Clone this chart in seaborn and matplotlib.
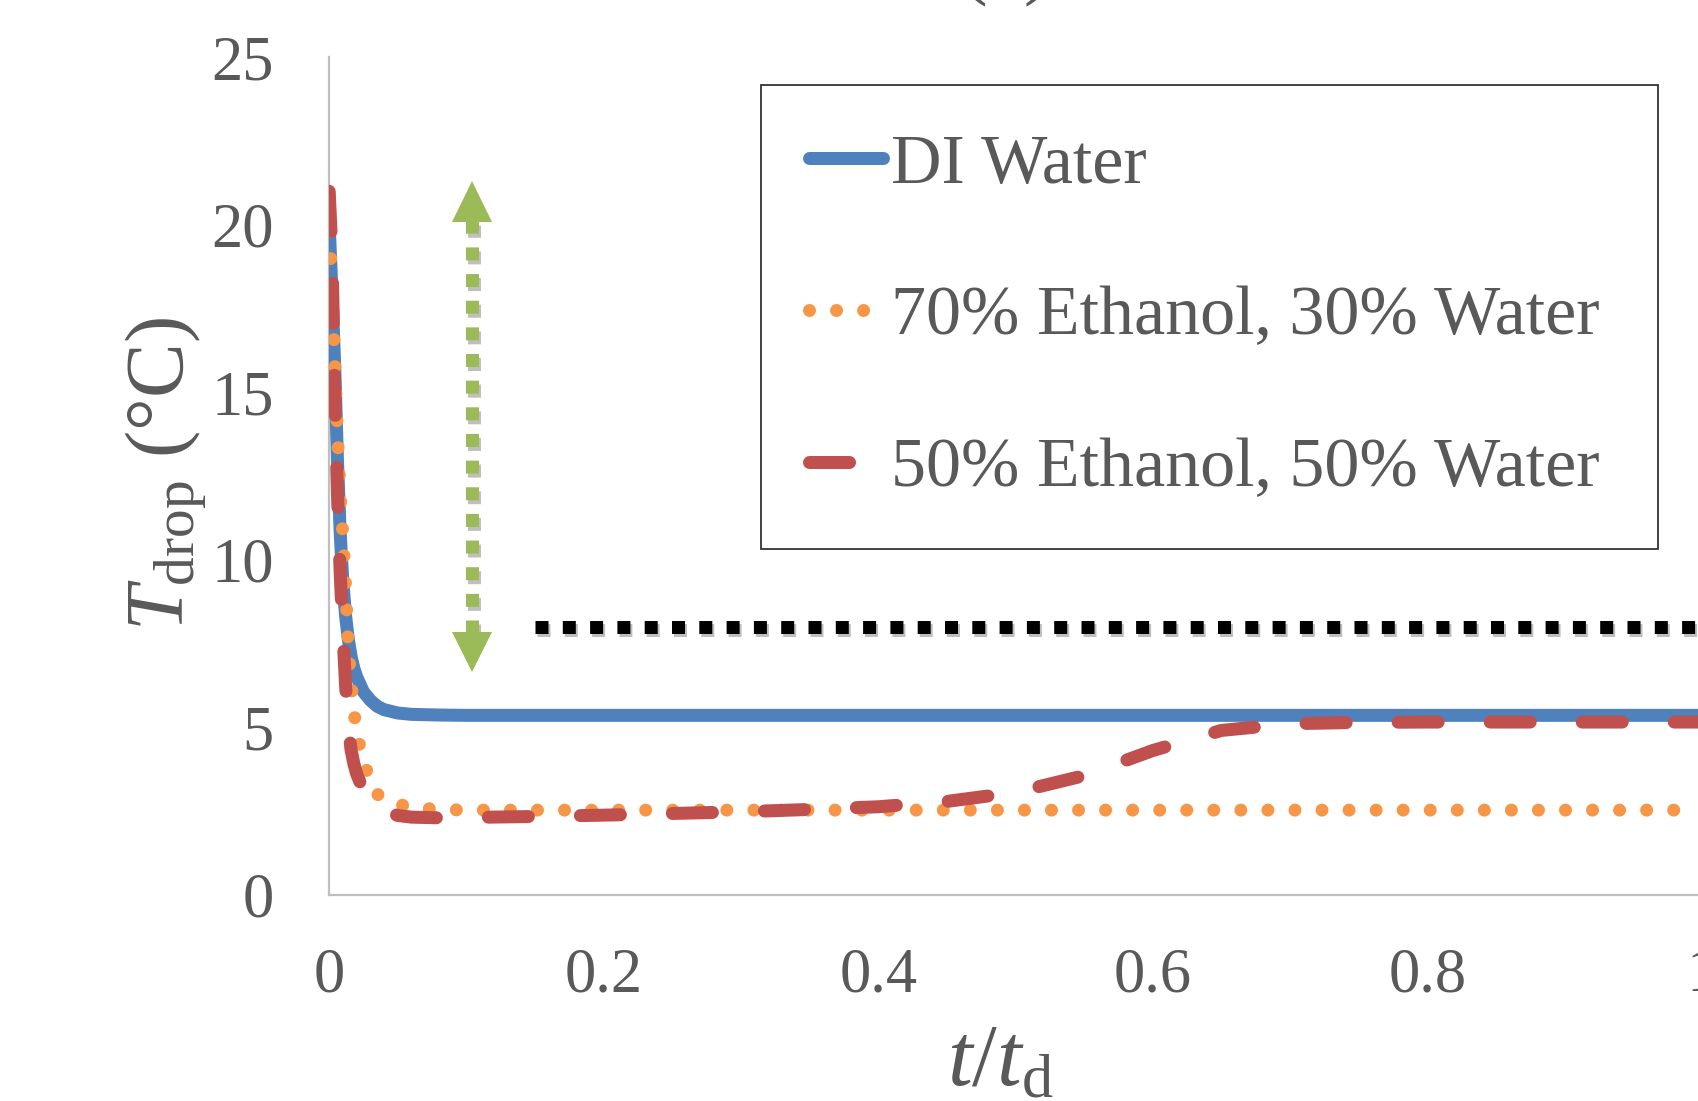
import numpy as np
import pandas as pd
import matplotlib
matplotlib.use("Agg")
import matplotlib.pyplot as plt
import matplotlib.patheffects as pe
import seaborn as sns

# ---------------- data ----------------
t_norm = [0, 0.002, 0.004, 0.006, 0.008, 0.010, 0.012, 0.014, 0.016, 0.018,
          0.020, 0.025, 0.030, 0.035, 0.040, 0.050, 0.060, 0.080, 0.10, 0.15,
          0.20, 0.25, 0.30, 0.35, 0.40, 0.45, 0.50, 0.55, 0.60, 0.65,
          0.70, 0.75, 0.80, 0.85, 0.90, 0.95, 1.00]
di_water = [20.0, 18.0, 15.8, 13.0, 10.8, 9.3, 8.3, 7.6, 7.1, 6.75,
            6.5, 6.05, 5.8, 5.62, 5.52, 5.42, 5.38, 5.36, 5.35, 5.35,
            5.35, 5.35, 5.35, 5.35, 5.35, 5.35, 5.35, 5.35, 5.35, 5.35,
            5.35, 5.35, 5.35, 5.35, 5.35, 5.35, 5.35]
eth70 = [19.8, 18.3, 16.0, 13.8, 12.0, 10.7, 9.2, 7.3, 6.3, 5.5,
         4.8, 4.0, 3.35, 3.0, 2.85, 2.7, 2.6, 2.54, 2.52, 2.52,
         2.52, 2.52, 2.52, 2.52, 2.52, 2.52, 2.52, 2.52, 2.52, 2.52,
         2.52, 2.52, 2.52, 2.52, 2.52, 2.52, 2.52]
eth50 = [21.0, 19.2, 15.0, 12.0, 9.6, 7.8, 6.2, 5.0, 4.3, 3.9,
         3.6, 3.1, 2.8, 2.62, 2.5, 2.36, 2.31, 2.29, 2.30, 2.33,
         2.37, 2.42, 2.47, 2.54, 2.62, 2.78, 3.05, 3.55, 4.3, 4.9,
         5.1, 5.14, 5.15, 5.15, 5.15, 5.15, 5.15]
series_labels = ["DI Water", "70% Ethanol, 30% Water", "50% Ethanol, 50% Water"]

# reference level (black dotted line) and double arrow annotation
ref_level = 8.0
ref_start = 0.15
arrow_t = 0.104
shaft_lo, shaft_hi = 7.8, 20.1
head_lo, head_hi = 7.24, 20.70

x_ticks = [0, 0.2, 0.4, 0.6, 0.8, 1.0]
x_ticklabels = ["0", "0.2", "0.4", "0.6", "0.8", "1"]
y_ticks = [0, 5, 10, 15, 20, 25]

# ---------------- style ----------------
sns.set_theme(style="white")
plt.rcParams["font.family"] = ["Liberation Serif", "DejaVu Serif"]
plt.rcParams["mathtext.fontset"] = "custom"
plt.rcParams["mathtext.rm"] = "Liberation Serif"
plt.rcParams["mathtext.it"] = "Liberation Serif:italic"
plt.rcParams["mathtext.bf"] = "Liberation Serif:bold"

GRAY_TXT = "#595959"
AX_GRAY = "#BFBFBF"
BLUE = "#4F81BD"
ORANGE = "#F79646"
RED = "#C0504D"
GREEN = "#9BBB59"

W, H = 1698, 1101
fig = plt.figure(figsize=(W / 100, H / 100), dpi=100)
left_px, right_px = 329.2, 1701.8
top_px, bot_px = 57.4, 894.5
ax = fig.add_axes([left_px / W, 1 - bot_px / H, (right_px - left_px) / W, (bot_px - top_px) / H])

LW = 13 * 72 / 100  # 13 px wide lines

df = pd.DataFrame({"t": t_norm, "di": di_water, "e70": eth70, "e50": eth50})

sns.lineplot(data=df, x="t", y="di", ax=ax, color=BLUE, linewidth=LW,
             solid_capstyle="round", estimator=None, sort=False, zorder=3)
sns.lineplot(data=df, x="t", y="e70", ax=ax, color=ORANGE, linewidth=LW,
             linestyle=(0, (0.001, 2.08)), dash_capstyle="round",
             estimator=None, sort=False, zorder=4)
sns.lineplot(data=df, x="t", y="e50", ax=ax, color=RED, linewidth=LW,
             linestyle=(0, (3.08, 4.0)), dash_capstyle="round",
             estimator=None, sort=False, zorder=5)
lines = ax.get_lines()[:3]

shadow = [pe.SimpleLineShadow(offset=(1.5, -2.5), shadow_color="black", alpha=0.25), pe.Normal()]

# black dotted reference line
ax.plot([ref_start, 1.2], [ref_level, ref_level], color="black", linewidth=LW,
        linestyle=(0, (1.0, 1.1)), dash_capstyle="butt", zorder=3,
        path_effects=shadow)

# green double arrow
ax.plot([arrow_t, arrow_t], [shaft_lo, shaft_hi], color=GREEN, linewidth=LW,
        linestyle=(0, (1.0, 1.05)), dash_capstyle="butt", zorder=3,
        path_effects=shadow)
ax.plot([arrow_t], [head_hi], marker="^", markersize=29, color=GREEN,
        markeredgewidth=0, linestyle="none", zorder=3, path_effects=shadow)
ax.plot([arrow_t], [head_lo], marker="v", markersize=29, color=GREEN,
        markeredgewidth=0, linestyle="none", zorder=3, path_effects=shadow)

# axes
ax.set_xlim(0, 1)
ax.set_ylim(0, 25)
ax.set_xticks(x_ticks)
ax.set_xticklabels(x_ticklabels)
ax.set_yticks(y_ticks)
for s in ["top", "right"]:
    ax.spines[s].set_visible(False)
for s in ["left", "bottom"]:
    ax.spines[s].set_color(AX_GRAY)
    ax.spines[s].set_linewidth(1.6)
ax.tick_params(axis="both", direction="in", length=14, width=1.2, color=AX_GRAY,
               labelsize=45, labelcolor=GRAY_TXT)
ax.tick_params(axis="x", pad=38)
ax.tick_params(axis="y", pad=40)
ax.grid(False)

ax.set_xlabel(r"$t/t_{\mathrm{d}}$", fontsize=64, color=GRAY_TXT, va="baseline")
ax.xaxis.set_label_coords((1000 - left_px) / (right_px - left_px), (bot_px - 1085) / (bot_px - top_px))
ax.set_ylabel(r"$T_{\mathrm{drop}}$ (°C)", fontsize=59, color=GRAY_TXT, va="center")
ax.yaxis.set_label_coords((166 - left_px) / (right_px - left_px), (bot_px - 474) / (bot_px - top_px))

# partially visible panel title at the very top
fig.text(1006 / W, 1 + 11 / H, "(a)", ha="center", va="baseline", fontsize=60, color=GRAY_TXT)

# legend
lx0 = (761 - left_px) / (right_px - left_px)
lx1 = (1658 - left_px) / (right_px - left_px)
ly1 = (bot_px - 85.5) / (bot_px - top_px)
leg = ax.legend(lines, series_labels, loc="upper left",
                bbox_to_anchor=(lx0, ly1 - 0.6, lx1 - lx0, 0.6),
                mode="expand", borderaxespad=0, fontsize=50.5,
                frameon=True, fancybox=False, edgecolor="black",
                handlelength=1.05, handletextpad=0.12, borderpad=0.685,
                labelspacing=1.25)
leg.get_frame().set_linewidth(1.3)
for txt in leg.get_texts():
    txt.set_color(GRAY_TXT)

fig.savefig("out.png", dpi=100)
